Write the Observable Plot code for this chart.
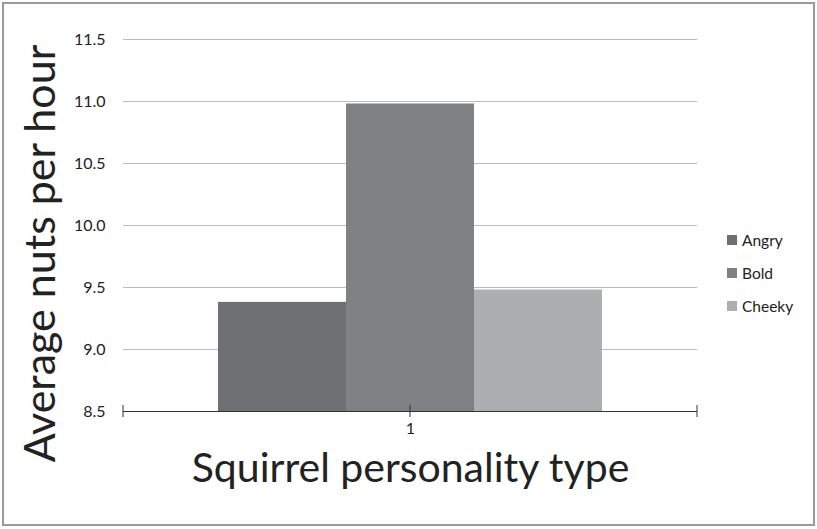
<!DOCTYPE html>
<html>
<head>
<meta charset="utf-8">
<script src="https://cdn.jsdelivr.net/npm/d3@7"></script>
<script src="https://cdn.jsdelivr.net/npm/@observablehq/plot@0.6"></script>
<style>
  html, body { margin: 0; padding: 0; background: #fff; }
  #wrap { position: relative; width: 817px; height: 529px; overflow: hidden; }
  #border { position: absolute; left: 2px; top: 2px; width: 809px; height: 520px; border: 2px solid #9a9a9a; pointer-events: none; }
  #legend { position: absolute; left: 727px; top: 228px; font-family: Lato, "Open Sans", sans-serif; font-size: 15.5px; color: #222; }
  .item { display: flex; align-items: center; height: 24px; margin-bottom: 9px; }
  .sw { width: 10px; height: 10px; margin-right: 5px; }
  svg { position: absolute; left: 0; top: 0; }
</style>
</head>
<body>
<div id="wrap"><div id="border"></div><div id="legend"></div></div>
<script>
const group = "1";
const personalities = ["Angry", "Bold", "Cheeky"];
const nutsPerHour = [9.38, 10.98, 9.48];
const colors = ["#6f7074", "#808185", "#adaeb1"];
const yTicks = [8.5, 9.0, 9.5, 10.0, 10.5, 11.0, 11.5];
const yMin = 8.5, yMax = 11.5;
const xTitle = "Squirrel personality type";
const yTitle = "Average nuts per hour";

const data = personalities.map((p, i) => ({group, personality: p, value: nutsPerHour[i]}));
const font = "Lato, 'Open Sans', sans-serif";

const axisTicks = (index, scales, values, dims) => {
  const g = d3.create("svg:g");
  const y0 = scales.y(yMin);
  const xs = [dims.marginLeft, (dims.marginLeft + dims.width - dims.marginRight) / 2, dims.width - dims.marginRight];
  for (const x of xs) {
    g.append("line").attr("x1", x).attr("x2", x).attr("y1", y0 - 6).attr("y2", y0 + 6)
      .attr("stroke", "#333").attr("stroke-width", 1);
  }
  return g.node();
};

const chart = Plot.plot({
  width: 817,
  height: 529,
  marginTop: 39,
  marginBottom: 118,
  marginLeft: 123,
  marginRight: 120,
  style: {fontFamily: font, background: "transparent"},
  fx: {domain: [group], padding: 0, axis: null},
  x: {domain: personalities, paddingInner: 0, paddingOuter: 0.742, axis: null},
  y: {domain: [yMin, yMax], axis: null},
  color: {domain: personalities, range: colors},
  marks: [
    Plot.gridY(yTicks.filter(t => t > yMin), {stroke: "#bcbcbc", strokeOpacity: 1}),
    Plot.axisY({ticks: yTicks, tickSize: 0, tickPadding: 18, tickFormat: d3.format(".1f"), label: null, fontSize: 16, fill: "#222"}),
    Plot.barY(data, {fx: "group", x: "personality", y1: () => yMin, y2: "value", fill: "personality"}),
    Plot.ruleY([yMin], {stroke: "#333", strokeWidth: 1}),
    axisTicks,
    Plot.text([group], {fx: d => d, frameAnchor: "bottom", dy: 22, text: d => d, fontSize: 16, fill: "#222"}),
    Plot.text([xTitle], {frameAnchor: "bottom", dy: 70, text: d => d, fontSize: 41, fill: "#222"}),
    Plot.text([yTitle], {frameAnchor: "left", textAnchor: "middle", dx: -82, dy: 28, rotate: -90, text: d => d, fontSize: 43, fill: "#222"})
  ]
});
document.getElementById("wrap").prepend(chart);

const legend = document.getElementById("legend");
personalities.forEach((p, i) => {
  const item = document.createElement("div");
  item.className = "item";
  const sw = document.createElement("div");
  sw.className = "sw";
  sw.style.background = colors[i];
  const label = document.createElement("span");
  label.textContent = p;
  item.append(sw, label);
  legend.append(item);
});
</script>
</body>
</html>
